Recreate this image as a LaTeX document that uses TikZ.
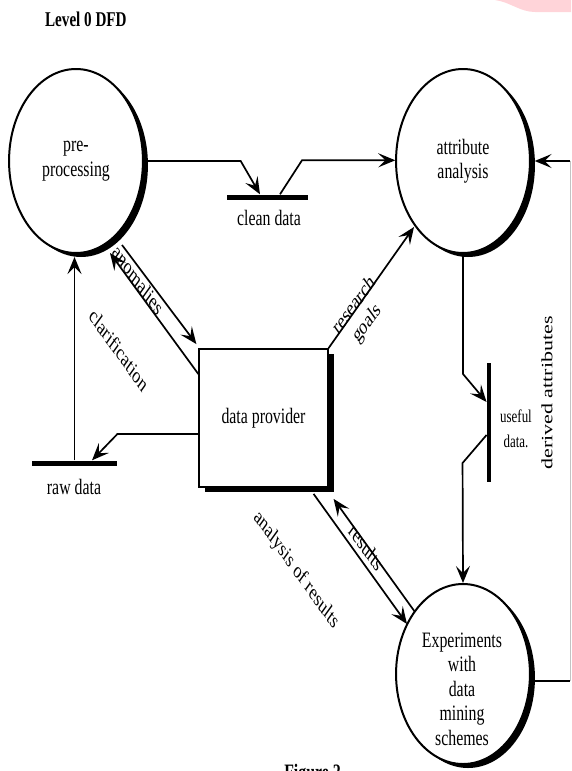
\documentclass[tikz,border=0pt]{standalone}
\usepackage{fontspec}
\setmainfont{Liberation Serif}
\usetikzlibrary{arrows.meta,shapes.geometric,shadows,calc}
\definecolor{blush}{RGB}{255,212,217}
\definecolor{paleline}{RGB}{195,195,195}
\begin{document}
\begin{tikzpicture}[x=1pt,y=-1pt,
  lbl/.style={font=\fontsize{22}{24.5}\selectfont, xscale=0.72, align=center, inner sep=0pt},
  proc/.style={ellipse, draw, line width=2pt, fill=white, xscale=0.72,
    minimum width=186pt, minimum height=184pt, inner sep=0pt,
    font=\fontsize{22}{24.5}\selectfont, align=center,
    drop shadow={shadow xshift=5pt, shadow yshift=-4pt, fill=black, opacity=1}},
  ent/.style={rectangle, draw, line width=1.8pt, fill=white, xscale=0.72,
    minimum width=179pt, minimum height=138pt, inner sep=0pt,
    font=\fontsize{22}{24.5}\selectfont,
    drop shadow={shadow xshift=6pt, shadow yshift=-5pt, fill=black, opacity=1}},
  store/.style={fill=black, inner sep=0pt, minimum height=5pt},
  vstore/.style={fill=black, inner sep=0pt, minimum width=4.5pt},
  flow/.style={line width=1.7pt, -{Stealth[length=17pt,width=14pt,inset=7pt]}},
  plain/.style={line width=1.7pt},
  thinline/.style={line width=0.8pt, paleline}]
\useasboundingbox (0,0) rectangle (571,771);
\clip (0,0) rectangle (571,771);
\fill[blush] (495,0) .. controls (510,2) and (520,12) .. (535,12) -- (571,12) -- (571,0) -- cycle;

\node[font=\bfseries\fontsize{21}{24}\selectfont, xscale=0.72, anchor=base west, inner sep=0pt] (title) at (45,27) {Level 0 DFD};

% processes
\node[proc] (pre) at (76,161) {pre-\\processing};
\node[proc] (attr) at (463,161) {attribute\\analysis};
\node[proc, minimum height=180pt] (exp) at (463,674) {};
\node[lbl] (expT) at (462,689) {Experiments\\with\\data\\mining\\schemes};
\node[ent] (prov) at (263.5,418) {data provider};

% data stores
\node[store, minimum width=81pt] (clean) at (267.5,197) {};
\node[lbl] (cleanT) at (269,218) {clean data};
\node[store, minimum width=85pt] (raw) at (74.5,463) {};
\node[lbl] (rawT) at (74,487) {raw data};
\node[vstore, minimum height=119pt] (useful) at (489,422.5) {};
\node[lbl, font=\fontsize{18}{25}\selectfont] (usefulT) at (516,429) {useful\\data.};

% flow labels
\node[lbl, rotate=90] (derT) at (547,393) {derived attributes};
\node[lbl, rotate=-45] (anomT) at (138,280) {anomalies};
\node[lbl, rotate=-45] (clarT) at (119,350) {clarification};
\node[lbl, rotate=45] (resT) at (361,315) {research\\goals};
\node[lbl, rotate=-45] (resuT) at (366,547) {results};
\node[lbl, rotate=-45] (aorT) at (296,570) {analysis of results};

% connectors
\draw[flow] (pre.east) -- ++(97,0) -- ([xshift=-7.5pt]clean.north);
\draw[flow] ([xshift=12.5pt]clean.north) -- ++(22,-34) coordinate (c1) -- (c1 -| attr.west);
\draw[flow] (attr.south) -- ++(0,120) -- ([yshift=20.5pt]useful.west);
\draw[flow] ([yshift=-12.5pt]useful.west) -- ++(-24,28) -- (exp.north);

\coordinate (dr) at (570,681);
\coordinate (ur) at (570,161);
\draw[plain] ([yshift=-7pt]exp.east) -- (dr);
\draw[thinline] (dr) -- (ur);
\draw[flow] (ur) -- ([xshift=4pt]attr.east);

\draw[flow] ([yshift=-16pt]prov.west) -- ++(-81,0) -- ([xshift=17.5pt]raw.north);
\draw[flow] (raw.north) -- ($(raw.north |- pre.south)+(0,3)$);

\draw[flow] ($(pre.center)+(46,84)$) -- ([xshift=-2pt,yshift=4pt]prov.north west);
\draw[flow] ([yshift=-26pt]prov.north west) -- ($(pre.center)+(34,92)$);

\draw[flow] (prov.north east) -- ($(attr.center)+(-49,66)$);

\draw[flow] ($(prov.south east)+(-15,6)$) -- ($(exp.center)+(-56,-50)$);
\draw[flow] ($(exp.center)+(-48,-62)$) -- ($(prov.south east)+(5,11)$);

\node[font=\bfseries\fontsize{22}{24}\selectfont, xscale=0.72, anchor=base, inner sep=0pt] (fig) at (312.5,779.5) {Figure 2};
\end{tikzpicture}
\end{document}
